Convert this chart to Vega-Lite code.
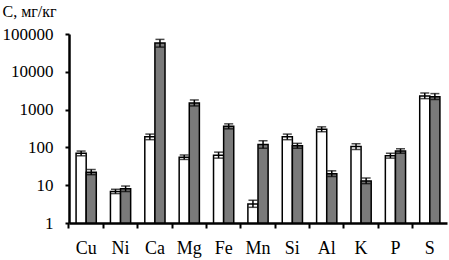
{
  "$schema": "https://vega.github.io/schema/vega-lite/v6.json",
  "width": 378,
  "height": 189,
  "autosize": "none",
  "padding": {"left": 69, "top": 34, "right": 2, "bottom": 37},
  "config": {
    "view": {"stroke": null},
    "font": "Liberation Serif",
    "axis": {"labelFont": "Liberation Serif", "titleFont": "Liberation Serif", "labelColor": "#000", "titleColor": "#000", "grid": false}
  },
  "data": {"values": [
    {"el": "Cu", "t": "A", "v": 70, "lo": 60, "hi": 80},
    {"el": "Cu", "t": "B", "v": 22, "lo": 19, "hi": 26},
    {"el": "Ni", "t": "A", "v": 6.8, "lo": 6, "hi": 7.8},
    {"el": "Ni", "t": "B", "v": 8, "lo": 6.8, "hi": 9.5},
    {"el": "Ca", "t": "A", "v": 190, "lo": 160, "hi": 225},
    {"el": "Ca", "t": "B", "v": 58000, "lo": 45000, "hi": 72000},
    {"el": "Mg", "t": "A", "v": 55, "lo": 48, "hi": 63},
    {"el": "Mg", "t": "B", "v": 1500, "lo": 1250, "hi": 1800},
    {"el": "Fe", "t": "A", "v": 62, "lo": 52, "hi": 75},
    {"el": "Fe", "t": "B", "v": 360, "lo": 310, "hi": 420},
    {"el": "Mn", "t": "A", "v": 3.2, "lo": 2.6, "hi": 4},
    {"el": "Mn", "t": "B", "v": 120, "lo": 95, "hi": 150},
    {"el": "Si", "t": "A", "v": 190, "lo": 160, "hi": 225},
    {"el": "Si", "t": "B", "v": 110, "lo": 95, "hi": 128},
    {"el": "Al", "t": "A", "v": 300, "lo": 260, "hi": 350},
    {"el": "Al", "t": "B", "v": 20, "lo": 17, "hi": 24},
    {"el": "K", "t": "A", "v": 105, "lo": 88, "hi": 125},
    {"el": "K", "t": "B", "v": 13, "lo": 11, "hi": 15.5},
    {"el": "P", "t": "A", "v": 60, "lo": 52, "hi": 70},
    {"el": "P", "t": "B", "v": 80, "lo": 70, "hi": 92},
    {"el": "S", "t": "A", "v": 2300, "lo": 1950, "hi": 2750},
    {"el": "S", "t": "B", "v": 2200, "lo": 1850, "hi": 2650}
  ]},
  "encoding": {
    "x": {"field": "el", "type": "nominal", "sort": ["Cu","Ni","Ca","Mg","Fe","Mn","Si","Al","K","P","S"],
          "scale": {"paddingInner": 0, "paddingOuter": 0},
          "axis": {"title": null, "labelAngle": 0, "bandPosition": 0, "labelFontSize": 18, "labelPadding": 11,
                   "tickSize": 5, "tickWidth": 2, "tickColor": "#000", "domainColor": "#000", "domainWidth": 2.5}},
    "xOffset": {"field": "t", "type": "nominal", "scale": {"paddingOuter": 0.7, "paddingInner": 0}}
  },
  "layer": [
    {
      "mark": {"type": "bar", "stroke": "#000", "strokeWidth": 1.5},
      "encoding": {
        "y": {"field": "v", "type": "quantitative",
              "scale": {"type": "log", "domain": [1, 100000], "nice": false},
              "axis": {"values": [1, 10, 100, 1000, 10000, 100000], "format": "d", "title": "С, мг/кг",
                       "titleAngle": 0, "titleAlign": "left", "titleBaseline": "alphabetic", "titleX": -67, "titleY": -18,
                       "titleFontSize": 16, "titleFontWeight": "normal", "labelFontSize": 17, "labelPadding": 12,
                       "tickSize": 4, "tickWidth": 2, "tickColor": "#000", "domainColor": "#000", "domainWidth": 2.5}},
        "y2": {"datum": 1},
        "fill": {"field": "t", "type": "nominal", "scale": {"domain": ["A", "B"], "range": ["#ffffff", "#7a7a7a"]}, "legend": null}
      }
    },
    {
      "mark": {"type": "rule", "color": "#000", "strokeWidth": 1.5},
      "encoding": {
        "y": {"field": "lo", "type": "quantitative"},
        "y2": {"field": "hi"}
      }
    },
    {
      "mark": {"type": "tick", "color": "#000", "thickness": 1.5, "size": 9, "orient": "horizontal"},
      "encoding": {
        "y": {"field": "lo", "type": "quantitative"}
      }
    },
    {
      "mark": {"type": "tick", "color": "#000", "thickness": 1.5, "size": 9, "orient": "horizontal"},
      "encoding": {
        "y": {"field": "hi", "type": "quantitative"}
      }
    }
  ]
}
